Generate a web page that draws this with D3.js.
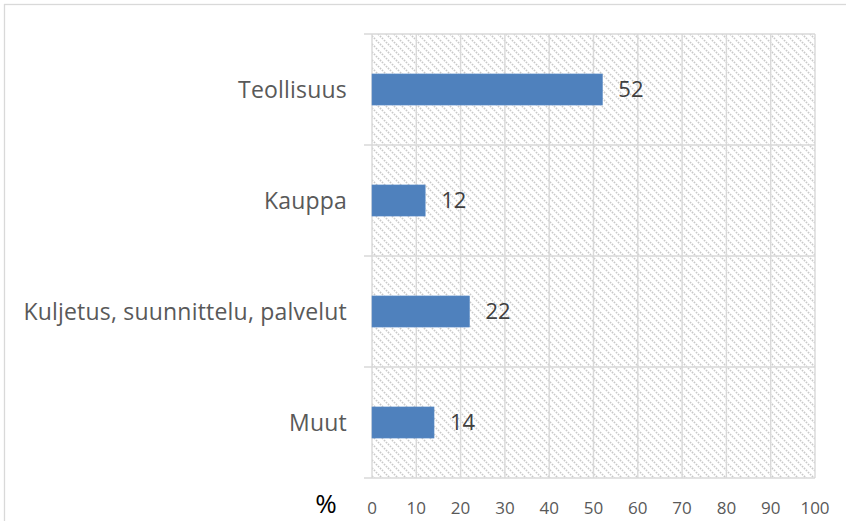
<!DOCTYPE html>
<html>
<head>
<meta charset="utf-8">
<script src="https://cdn.jsdelivr.net/npm/d3@7"></script>
<style>
  html, body { margin: 0; padding: 0; background: #fff; }
  svg { display: block; }
</style>
</head>
<body>
<svg id="chart" width="846" height="521"></svg>
<script>
const categories = ["Teollisuus", "Kauppa", "Kuljetus, suunnittelu, palvelut", "Muut"];
const values = [52, 12, 22, 14];
const xTicks = [0, 10, 20, 30, 40, 50, 60, 70, 80, 90, 100];
const axisUnit = "%";

const W = 846, H = 521;
const plot = { left: 372, right: 815, top: 34, bottom: 478 };
const font = "'Open Sans', 'DejaVu Sans', sans-serif";

const svg = d3.select("#chart");

// hatch pattern
const defs = svg.append("defs");
const pat = defs.append("pattern")
  .attr("id", "hatch").attr("patternUnits", "userSpaceOnUse")
  .attr("width", 8).attr("height", 8);
pat.append("rect").attr("width", 8).attr("height", 8).attr("fill", "#fff");
pat.append("path")
  .attr("d", "M-2,-2 L10,10 M-2,6 L2,10 M6,-2 L10,2")
  .attr("stroke", "#c9c9c9").attr("stroke-width", 1.6)
  .attr("stroke-dasharray", "1.6,1.2");

// outer chart border
svg.append("rect")
  .attr("x", 4.5).attr("y", 4.5).attr("width", W + 20).attr("height", H + 20)
  .attr("fill", "#fff").attr("stroke", "#d9d9d9").attr("stroke-width", 1.3);

const x = d3.scaleLinear().domain([0, 100]).range([plot.left, plot.right]);
const y = d3.scaleBand().domain(categories).range([plot.top, plot.bottom]).padding(0);

// plot background
svg.append("rect")
  .attr("x", plot.left).attr("y", plot.top)
  .attr("width", plot.right - plot.left).attr("height", plot.bottom - plot.top)
  .attr("fill", "url(#hatch)");

// vertical gridlines
svg.append("g").selectAll("line").data(xTicks).join("line")
  .attr("x1", d => x(d)).attr("x2", d => x(d))
  .attr("y1", plot.top).attr("y2", plot.bottom)
  .attr("stroke", "#d9d9d9").attr("stroke-width", 1.4);

// horizontal category separators (with tick extension)
const seps = categories.map(c => y(c)).concat([plot.bottom]);
svg.append("g").selectAll("line").data(seps).join("line")
  .attr("x1", plot.left - 8).attr("x2", plot.right)
  .attr("y1", d => d).attr("y2", d => d)
  .attr("stroke", "#d9d9d9").attr("stroke-width", 1.4);

// bars
const barFrac = 0.28;
const bh = y.bandwidth() * barFrac;
svg.append("g").selectAll("rect").data(values).join("rect")
  .attr("x", x(0))
  .attr("y", (d, i) => y(categories[i]) + (y.bandwidth() - bh) / 2)
  .attr("width", d => x(d) - x(0))
  .attr("height", bh)
  .attr("fill", "#4f81bd")
  .attr("stroke", "#5b8bc6").attr("stroke-width", 0.6);

// value labels
svg.append("g").selectAll("text").data(values).join("text")
  .attr("x", d => x(d) + 16)
  .attr("y", (d, i) => y(categories[i]) + y.bandwidth() / 2)
  .attr("dy", "0.36em")
  .attr("font-family", font).attr("font-size", 22)
  .attr("fill", "#404040")
  .text(d => d);

// category labels
svg.append("g").selectAll("text").data(categories).join("text")
  .attr("x", 347)
  .attr("y", d => y(d) + y.bandwidth() / 2)
  .attr("dy", "0.36em")
  .attr("text-anchor", "end")
  .attr("font-family", font).attr("font-size", 23)
  .attr("letter-spacing", 0.2)
  .attr("fill", "#595959")
  .text(d => d);

// x tick labels
svg.append("g").selectAll("text").data(xTicks).join("text")
  .attr("x", d => x(d))
  .attr("y", 514)
  .attr("text-anchor", "middle")
  .attr("font-family", font).attr("font-size", 17)
  .attr("fill", "#595959")
  .text(d => d);

// unit label
svg.append("text")
  .attr("x", 326).attr("y", 513)
  .attr("text-anchor", "middle")
  .attr("font-family", font).attr("font-size", 26)
  .attr("fill", "#000")
  .text(axisUnit);
</script>
</body>
</html>
